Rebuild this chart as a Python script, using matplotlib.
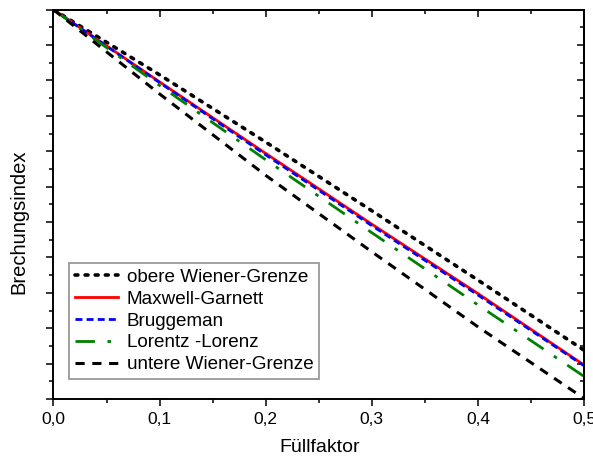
import matplotlib
matplotlib.use("Agg")
import matplotlib.pyplot as plt
from matplotlib.ticker import MultipleLocator, FuncFormatter, NullFormatter

plt.rcParams['font.family'] = ['Liberation Sans', 'DejaVu Sans']

# Füllfaktor
fill = [0.0, 0.1, 0.2, 0.3, 0.4, 0.5]

# Brechungsindex (arbitrary units, axis has no labels)
upper_wiener = [2.000, 1.908, 1.813, 1.716, 1.618, 1.519]
maxwell_garnett = [2.000, 1.898, 1.797, 1.697, 1.599, 1.498]
bruggeman = [2.000, 1.897, 1.795, 1.695, 1.597, 1.497]
lorentz_lorenz = [2.000, 1.893, 1.788, 1.685, 1.583, 1.482]
lower_wiener = [2.000, 1.881, 1.766, 1.658, 1.552, 1.451]

labels = ["obere Wiener-Grenze", "Maxwell-Garnett", "Bruggeman",
          "Lorentz -Lorenz", "untere Wiener-Grenze"]

fig = plt.figure(figsize=(5.93, 4.58), dpi=100)
ax = fig.add_axes([0.0902, 0.1288, 0.8946, 0.850])

ax.plot(fill, upper_wiener, color="black", lw=2.6, linestyle=(0, (0.8, 2.0)),
        dash_capstyle="round", label=labels[0])
ax.plot(fill, maxwell_garnett, color="#ff0000", lw=2.0, label=labels[1])
ax.plot(fill, bruggeman, color="#0000ff", lw=2.0, linestyle=(0, (2.5, 1.5)),
        label=labels[2])
ax.plot(fill, lorentz_lorenz, color="#008000", lw=2.0,
        linestyle=(0, (7, 4.5, 1.3, 4.5)), label=labels[3])
ax.plot(fill, lower_wiener, color="black", lw=2.2, linestyle=(0, (3, 2.5)),
        label=labels[4])

ax.set_xlim(0, 0.5)
ax.set_ylim(1.45, 2.0)

ax.xaxis.set_major_locator(MultipleLocator(0.1))
ax.xaxis.set_minor_locator(MultipleLocator(0.05))
ax.yaxis.set_major_locator(MultipleLocator(0.05))
ax.yaxis.set_minor_locator(MultipleLocator(0.025))
ax.xaxis.set_major_formatter(FuncFormatter(lambda v, p: f"{v:.1f}".replace(".", ",")))
ax.yaxis.set_major_formatter(NullFormatter())

ax.tick_params(which="major", direction="out", length=5, width=1.1, labelsize=12.5, pad=4)
ax.tick_params(which="minor", direction="out", length=3, width=1.1)
for s in ax.spines.values():
    s.set_linewidth(1.4)

# inward ticks on top and right
top = ax.secondary_xaxis("top")
top.xaxis.set_major_locator(MultipleLocator(0.1))
top.xaxis.set_minor_locator(MultipleLocator(0.05))
top.tick_params(which="major", direction="in", length=5, width=1.1, labeltop=False)
top.tick_params(which="minor", direction="in", length=3, width=1.1)
top.spines["top"].set_linewidth(1.4)

right = ax.secondary_yaxis("right")
right.yaxis.set_major_locator(MultipleLocator(0.05))
right.yaxis.set_minor_locator(MultipleLocator(0.025))
right.tick_params(which="major", direction="in", length=5, width=1.1, labelright=False)
right.tick_params(which="minor", direction="in", length=3, width=1.1)
right.spines["right"].set_linewidth(1.4)

ax.set_xlabel("Füllfaktor", fontsize=14)
ax.set_ylabel("Brechungsindex", fontsize=14.5)
ax.xaxis.set_label_coords(0.502, -0.1027)
ax.yaxis.set_label_coords(-0.048, 0.455)

leg = ax.legend(loc="upper left", bbox_to_anchor=(0.0298, 0.350), borderaxespad=0,
                fontsize=13.6, frameon=True, fancybox=False, edgecolor="#808080",
                handlelength=2.3, handletextpad=0.44, labelspacing=0.25,
                borderpad=0.3)
leg.get_frame().set_linewidth(1.3)

fig.savefig("out.png", dpi=100)
